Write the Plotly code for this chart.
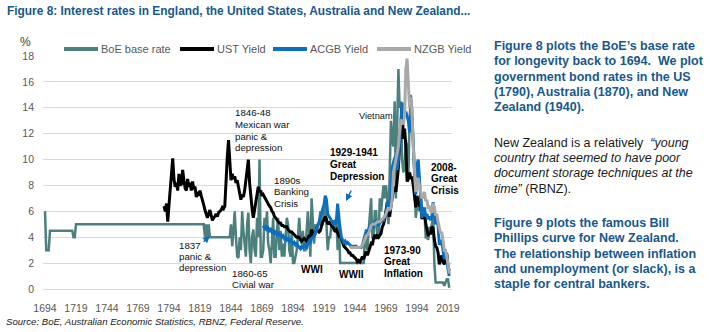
import plotly.graph_objects as go

# ---------------- data ----------------
# Bank of England base rate: bend points for the long flat early period,
# then annual values from 1823.
boe_years_early = [1694, 1695, 1697, 1698, 1716, 1717, 1718, 1719, 1822]
boe_early = [6.0, 3.0, 3.0, 4.5, 4.5, 4.0, 4.0, 5.0, 5.0]
boe_annual_start = 1823
boe_annual = [
    4.0, 5.0, 4.0, 5.0, 4.0, 4.0, 4.0, 4.0, 4.0, 4.0,            # 1823-1832
    4.0, 4.0, 4.0, 4.0, 4.0, 4.0, 4.0, 4.0, 4.0, 4.0, 4.0,       # 1833-1843
    5.0, 3.3, 4.5, 6.0, 4.0, 2.5, 2.4, 4.0, 3.0, 6.0,            # 1844-1853
    4.5, 3.3, 2.5, 5.0, 5.9, 3.0, 2.0, 4.0, 4.6, 3.0,            # 1854-1863
    2.5, 5.5, 4.0, 10.0, 2.5, 2.5, 3.0, 5.5, 4.5, 6.0,           # 1864-1873
    3.5, 3.0, 2.0, 3.5, 5.5, 2.5, 2.5, 4.5, 5.5, 3.0,            # 1874-1883
    4.5, 2.5, 3.5, 2.5, 4.5, 5.5, 5.0, 3.0, 2.5, 4.5,            # 1884-1893
    2.0, 2.0, 2.5, 3.0, 4.0, 5.5, 4.0, 3.5, 4.5, 3.0,            # 1894-1903
    3.0, 4.5, 6.0, 4.5, 2.5, 7.0, 4.5, 3.5, 5.0, 4.5,            # 1904-1913
    5.0, 5.0, 6.0, 5.0, 5.0, 6.0, 7.0, 5.0, 3.0, 4.0,            # 1914-1923
    4.0, 5.0, 5.0, 4.5, 4.5, 5.5, 3.0, 6.0, 2.0, 2.0,            # 1924-1933
    2.0, 2.0, 2.0, 2.0, 2.0, 2.0, 2.0, 2.0, 2.0, 2.0,            # 1934-1943
    2.0, 2.0, 2.0, 2.0, 2.0, 2.0, 2.0, 2.0, 4.0, 3.5,            # 1944-1953
    3.0, 4.5, 5.5, 7.0, 4.0, 4.0, 6.0, 6.0, 4.0, 4.0,            # 1954-1963
    7.0, 6.0, 7.0, 8.0, 7.0, 8.0, 7.0, 5.0, 9.0, 13.0,           # 1964-1973
    11.5, 11.0, 14.5, 7.0, 12.5, 17.0, 14.0, 14.5, 10.0, 9.0,    # 1974-1983
    9.5, 11.5, 11.0, 8.5, 13.0, 15.0, 14.0, 10.5, 7.0, 5.5,      # 1984-1993
    6.3, 6.5, 6.0, 7.3, 6.3, 5.5, 6.0, 4.0, 4.0, 3.8,            # 1994-2003
    4.8, 4.5, 5.0, 5.5, 2.0, 0.5, 0.5, 0.5, 0.5, 0.5,            # 2004-2013
    0.5, 0.5, 0.25, 0.5, 0.75, 0.75, 0.1,                        # 2014-2020
]

# US Treasury yield, annual from 1790
ust_start = 1790
ust = [
    6.4, 6.0, 6.6, 5.2, 6.5, 8.0, 8.6, 10.1, 8.5, 7.9,           # 1790-1799
    8.2, 7.6, 8.9, 8.0, 8.1, 9.2, 8.4, 7.8, 7.6, 8.5,            # 1800-1809
    7.9, 8.2, 7.6, 8.3, 7.7, 7.9, 7.1, 7.5, 7.2, 7.6,            # 1810-1819
    7.2, 6.9, 6.5, 6.1, 5.8, 5.5, 5.8, 6.1, 5.7, 5.3,            # 1820-1829
    5.5, 5.6, 5.8, 5.6, 5.9, 6.0, 6.1, 6.3, 6.2, 6.4,            # 1830-1839
    8.7, 10.2, 11.5, 9.5, 8.4, 8.9, 8.5, 8.7, 8.2, 8.4,          # 1840-1849
    7.9, 7.6, 6.9, 7.3, 7.1, 7.6, 8.4, 9.2, 10.0, 8.2,           # 1850-1859
    7.0, 6.2, 5.5, 6.1, 7.0, 7.6, 7.9, 7.5, 7.6, 7.2,            # 1860-1869
    7.3, 7.1, 6.9, 6.8, 6.6, 6.4, 6.3, 6.0, 5.9, 5.6,            # 1870-1879
    5.5, 5.3, 5.2, 5.1, 5.1, 4.9, 4.9, 4.8, 4.8, 4.8,            # 1880-1889
    4.6, 4.5, 4.4, 4.4, 4.3, 4.2, 4.1, 4.0, 4.0, 4.0,            # 1890-1899
    3.8, 3.7, 3.8, 3.9, 3.8, 3.7, 3.9, 4.2, 4.0, 4.6,            # 1900-1909
    4.3, 4.1, 4.3, 4.6, 4.5, 4.4, 4.5, 4.9, 5.2, 5.3,            # 1910-1919
    5.6, 5.4, 5.0, 5.2, 5.0, 4.9, 4.8, 4.6, 4.5, 4.6,            # 1920-1929
    4.3, 4.1, 4.2, 3.8, 3.6, 3.3, 3.2, 3.1, 3.0, 2.8,            # 1930-1939
    2.8, 2.6, 2.6, 2.5, 2.4, 2.3, 2.1, 2.2, 2.1, 2.3,            # 1940-1949
    2.5, 2.3, 2.7, 2.9, 2.6, 3.0, 3.2, 3.5, 3.4, 3.9,            # 1950-1959
    4.2, 3.9, 4.1, 4.0, 4.2, 4.3, 4.8, 5.0, 5.4, 5.9,            # 1960-1969
    6.7, 5.8, 5.6, 6.4, 7.1, 7.6, 7.9, 7.5, 8.4, 9.4,            # 1970-1979
    11.2, 12.8, 14.0, 11.6, 12.4, 11.0, 8.3, 8.5, 9.0, 8.6,      # 1980-1989
    8.6, 8.0, 7.1, 6.3, 7.2, 6.8, 6.4, 6.5, 5.4, 5.7,            # 1990-1999
    6.0, 5.1, 4.7, 4.1, 4.3, 4.3, 4.8, 4.7, 3.8, 3.3,            # 2000-2009
    3.2, 2.8, 1.9, 2.4, 2.6, 2.1, 1.9, 2.3, 2.7, 1.8,            # 2010-2019
    1.4,                                                         # 2020
]

# Australian Commonwealth government bond yield, annual from 1870
acgb_start = 1870
acgb = [
    4.9, 4.7, 4.8, 4.6, 4.7, 4.5, 4.6, 4.4, 4.5, 4.3,            # 1870-1879
    4.4, 4.2, 4.3, 4.1, 4.3, 4.0, 4.1, 3.9, 4.0, 3.8,            # 1880-1889
    3.9, 3.7, 3.8, 3.6, 3.5, 3.6, 3.4, 3.5, 3.3, 3.2,            # 1890-1899
    3.1, 3.3, 3.2, 3.4, 3.3, 3.2, 3.5, 3.7, 3.6, 3.9,            # 1900-1909
    4.0, 4.1, 4.3, 4.6, 4.8, 5.1, 5.4, 5.8, 6.2, 6.5,            # 1910-1919
    7.2, 6.9, 5.8, 5.6, 5.5, 5.3, 5.1, 5.2, 5.0, 5.3,            # 1920-1929
    6.6, 5.4, 4.6, 4.0, 3.8, 3.6, 3.7, 3.5, 3.6, 3.5,            # 1930-1939
    3.4, 3.3, 3.3, 3.3, 3.3, 3.3, 3.2, 3.2, 3.2, 3.2,            # 1940-1949
    3.4, 3.8, 4.3, 4.5, 4.5, 4.6, 4.9, 5.0, 4.9, 4.8,            # 1950-1959
    5.1, 5.3, 5.1, 4.9, 5.1, 5.2, 5.3, 5.3, 5.5, 5.8,            # 1960-1969
    6.6, 6.8, 6.0, 7.3, 9.4, 9.8, 10.1, 10.3, 9.2, 10.0,         # 1970-1979
    11.6, 13.2, 14.4, 13.8, 13.4, 13.7, 13.4, 13.0, 12.1, 13.4,  # 1980-1989
    13.2, 10.7, 9.2, 7.3, 9.6, 10.0, 8.6, 6.9, 5.5, 6.0,         # 1990-1999
    6.3, 5.6, 5.8, 5.4, 5.6, 5.3, 5.6, 6.7, 5.8, 5.0,            # 2000-2009
    5.4, 4.9, 3.4, 3.7, 3.7, 2.7, 2.3, 2.7, 2.7, 1.5,            # 2010-2019
    1.0,                                                         # 2020
]

# New Zealand government bond yield, annual from 1940
nzgb_start = 1940
nzgb = [
    3.3, 3.2, 3.2, 3.2, 3.2, 3.2, 3.2, 3.2, 3.2, 3.3,            # 1940-1949
    3.4, 3.6, 3.9, 4.1, 4.2, 4.3, 4.6, 4.9, 5.0, 5.0,            # 1950-1959
    5.0, 5.1, 5.2, 5.2, 5.2, 5.3, 5.4, 5.5, 5.6, 5.8,            # 1960-1969
    6.0, 6.3, 6.1, 6.3, 7.0, 9.0, 9.5, 10.0, 10.2, 11.0,         # 1970-1979
    12.3, 13.0, 13.0, 12.7, 13.5, 17.0, 17.8, 15.5, 14.0, 14.8,  # 1980-1989
    13.5, 11.0, 9.0, 7.5, 8.5, 8.5, 8.0, 7.5, 7.0, 7.2,          # 1990-1999
    7.5, 6.8, 6.9, 6.2, 6.3, 6.0, 5.9, 6.6, 6.3, 5.7,            # 2000-2009
    5.8, 5.2, 4.6, 4.3, 4.4, 3.6, 3.0, 3.0, 2.6, 2.0,            # 2010-2019
    1.2,                                                         # 2020
]

tick_years = [1694, 1719, 1744, 1769, 1794, 1819, 1844, 1869, 1894, 1919, 1944, 1969, 1994, 2019]
y_ticks = [0, 2, 4, 6, 8, 10, 12, 14, 16, 18]

# ---------------- styling ----------------
FONT = "Liberation Sans, Arial, sans-serif"
TEAL = "#4B807D"
BLACK = "#000000"
BLUE = "#0A6FC2"
GREY = "#A9A9A9"
NAVY = "#17588E"
AXIS_TXT = "#595959"

W, H = 710, 332
L, R, T, B = 43, 452, 56, 289   # plot area edges in pixels

boe_x = boe_years_early + list(range(boe_annual_start, boe_annual_start + len(boe_annual)))
boe_y = boe_early + boe_annual

fig = go.Figure()
series = [
    ("BoE base rate", boe_x, boe_y, TEAL, 2.5),
    ("UST Yield", list(range(ust_start, ust_start + len(ust))), ust, BLACK, 3),
    ("ACGB Yield", list(range(acgb_start, acgb_start + len(acgb))), acgb, BLUE, 3),
    ("NZGB Yield", list(range(nzgb_start, nzgb_start + len(nzgb))), nzgb, GREY, 3),
]
for name, xs, ys, col, lw in series:
    fig.add_trace(go.Scatter(x=xs, y=ys, name=name, mode="lines",
                             line=dict(color=col, width=lw),
                             hoverinfo="skip", showlegend=False))


def paper(x, y):
    return (x - L) / (R - L), (B - y) / (B - T)


def text_at(x, y, text, size=10, color="#111111", bold=False, italic=False,
            xanchor="left", yanchor="middle"):
    px, py = paper(x, y)
    if bold:
        text = "<b>" + text + "</b>"
    if italic:
        text = "<i>" + text + "</i>"
    fig.add_annotation(xref="paper", yref="paper", x=px, y=py, text=text,
                       showarrow=False, xanchor=xanchor, yanchor=yanchor,
                       align="left", borderpad=0,
                       font=dict(family=FONT, size=size, color=color))


def lines_at(x, y0, lines, step, **kw):
    for i, s in enumerate(lines):
        text_at(x, y0 + i * step, s, **kw)


def arrow(x_tail, y_tail, x_head, y_head):
    hx, hy = paper(x_head, y_head)
    fig.add_annotation(xref="paper", yref="paper", x=hx, y=hy, text="",
                       showarrow=True, ax=x_tail - x_head, ay=y_tail - y_head,
                       arrowhead=2, arrowsize=1, arrowwidth=1.4,
                       arrowcolor=BLUE, standoff=0, startstandoff=0)


# legend row above the plot: a line swatch followed by the series name
legend_row_y = 49
legend_swatch_x = [64, 180, 273, 377]
for (name, _, _, col, _), sx in zip(series, legend_swatch_x):
    x0, y0 = paper(sx, legend_row_y)
    x1, _ = paper(sx + 34, legend_row_y)
    fig.add_shape(type="line", xref="paper", yref="paper", x0=x0, x1=x1, y0=y0, y1=y0,
                  line=dict(color=col, width=4))
    text_at(sx + 36, legend_row_y, name, size=11, color=AXIS_TXT)

# title
text_at(6, 11, "Figure 8: Interest rates in England, the United States, Australia and New Zealand...",
        size=11.9, color=NAVY, bold=True)
# unit label
text_at(25, 42, "%", size=12, color="#404040", xanchor="center")

# event labels inside the chart
lines_at(234, 113, ["1846-48", "Mexican war", "panic &", "depression"], 11.6, size=9.7)
lines_at(178, 245, ["1837", "panic &", "depression"], 11.2, size=9.7)
lines_at(231, 273, ["1860-65", "Civial war"], 11, size=9.7)
lines_at(273, 180, ["1890s", "Banking", "Crisis"], 11.7, size=9.7)
lines_at(329, 152, ["1929-1941", "Great", "Depression"], 12, size=10, bold=True, color="#000000")
text_at(358, 116, "Vietnam", size=9.2)
lines_at(383, 250, ["1973-90", "Great", "Inflation"], 11.7, size=10, bold=True, color="#000000")
text_at(300, 269, "WWI", size=10, bold=True, color="#000000")
text_at(338, 274, "WWII", size=10, bold=True, color="#000000")
lines_at(430, 167, ["2008-", "Great", "Crisis"], 11.7, size=10, bold=True, color="#000000")

arrow(202, 243, 210, 236)
arrow(352, 189, 346, 201)

# commentary column
lines_at(493, 46, ["Figure 8 plots the BoE’s base rate",
                   "for longevity back to 1694.  We plot",
                   "government bond rates in the US",
                   "(1790), Australia (1870), and New",
                   "Zealand (1940)."], 15.3, size=12.5, color=NAVY, bold=True)
lines_at(493, 143, ["New Zealand is a relatively  <i>“young</i>",
                    "<i>country that seemed to have poor</i>",
                    "<i>document storage techniques at the</i>",
                    "<i>time”</i> (RBNZ)."], 15.2, size=12.5, color="#1a1a1a")
lines_at(493, 223, ["Figure 9 plots the famous Bill",
                    "Phillips curve for New Zealand.",
                    "The relationship between inflation",
                    "and unemployment (or slack), is a",
                    "staple for central bankers."], 15.3, size=12.5, color=NAVY, bold=True)

# source line
text_at(5, 321, "Source: BoE, Australian Economic Statistics, RBNZ, Federal Reserve.",
        size=9.6, color="#1a1a1a", italic=True)

px_per_year = 1.24
x_lo = 1694 - (45 - L) / px_per_year
x_hi = 1694 + (R - 45) / px_per_year

fig.update_layout(
    width=W, height=H,
    margin=dict(l=L, r=W - R, t=T, b=H - B, pad=0),
    paper_bgcolor="white", plot_bgcolor="white",
    font=dict(family=FONT, color=AXIS_TXT),
    showlegend=False,
    xaxis=dict(range=[x_lo, x_hi], tickmode="array", tickvals=tick_years,
               ticktext=[str(v) for v in tick_years], showgrid=False,
               zeroline=False, showline=False, ticks="",
               tickfont=dict(family=FONT, size=10.5, color=AXIS_TXT),
               ticklabelstandoff=11),
    yaxis=dict(range=[0, 18], tickmode="array", tickvals=y_ticks,
               showgrid=True, gridcolor="#D9D9D9", gridwidth=1,
               zeroline=True, zerolinecolor="#D9D9D9", zerolinewidth=1,
               showline=False, ticks="",
               tickfont=dict(family=FONT, size=10.5, color=AXIS_TXT),
               ticklabelstandoff=8),
)

fig.write_html("out.html")
